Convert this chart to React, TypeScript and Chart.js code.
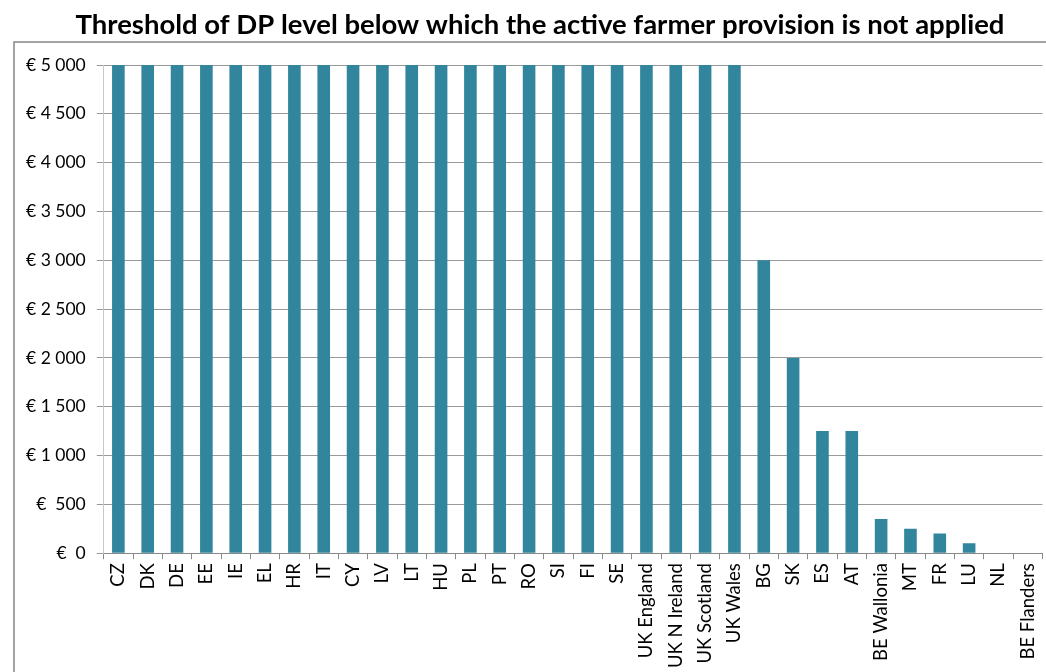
import React, { useEffect, useRef } from "react";
import { Chart, registerables } from "chart.js";

Chart.register(...registerables);

// Countries / regions, ordered by threshold
const categories: string[] = [
  "CZ", "DK", "DE", "EE", "IE", "EL", "HR", "IT", "CY", "LV", "LT", "HU",
  "PL", "PT", "RO", "SI", "FI", "SE", "UK England", "UK N Ireland",
  "UK Scotland", "UK Wales", "BG", "SK", "ES", "AT", "BE Wallonia", "MT",
  "FR", "LU", "NL", "BE Flanders",
];

// Threshold of direct payments (EUR)
const thresholds: number[] = [
  5000, 5000, 5000, 5000, 5000, 5000, 5000, 5000, 5000, 5000, 5000, 5000,
  5000, 5000, 5000, 5000, 5000, 5000, 5000, 5000, 5000, 5000, 3000, 2000,
  1250, 1250, 350, 250, 200, 100, 0, 0,
];

// Value axis labels, from 0 up to 5 000 in steps of 500
const yTickLabels: string[] = [
  "€  0", "€  500", "€ 1 000", "€ 1 500", "€ 2 000", "€ 2 500",
  "€ 3 000", "€ 3 500", "€ 4 000", "€ 4 500", "€ 5 000",
];

const title = "Threshold of DP level below which the active farmer provision is not applied";

// Outer frame and heading drawn around the plot
const frame = {
  id: "outerFrame",
  afterDraw(chart: Chart) {
    const ctx = chart.ctx;
    ctx.save();
    ctx.strokeStyle = "#868686";
    ctx.lineWidth = 1.5;
    ctx.strokeRect(14, 42, 1200, 800);
    ctx.fillStyle = "#000";
    ctx.font = "bold 27.5px Lato";
    ctx.textAlign = "center";
    ctx.textBaseline = "middle";
    ctx.fillText(title, 540, 25);
    ctx.restore();
  },
};

const CANVAS_W = 1054;
const CANVAS_H = 672;

export default function App() {
  const ref = useRef<HTMLCanvasElement | null>(null);

  useEffect(() => {
    if (!ref.current) return;
    const chart = new Chart(ref.current, {
      type: "bar",
      data: {
        labels: categories,
        datasets: [
          {
            data: thresholds,
            backgroundColor: "#31859C",
            borderWidth: 0,
            barPercentage: 0.43,
            categoryPercentage: 1,
          },
        ],
      },
      options: {
        animation: false,
        responsive: false,
        devicePixelRatio: 1,
        layout: { padding: { left: 15, right: -6, top: 65, bottom: 0 } },
        plugins: {
          legend: { display: false },
          tooltip: { enabled: false },
          title: { display: false },
        },
        scales: {
          x: {
            grid: {
              display: true,
              drawOnChartArea: false,
              drawTicks: true,
              tickLength: 6,
              color: "#888888",
              offset: true,
            },
            border: { color: "#888888" },
            ticks: {
              autoSkip: false,
              maxRotation: 90,
              minRotation: 90,
              color: "#000",
              padding: 4,
              font: { family: "Lato", size: 18.5 },
            },
          },
          y: {
            min: 0,
            max: 5000,
            grid: {
              color: "#9a9a9a",
              tickLength: 7,
            },
            border: { color: "#c8c8c8" },
            ticks: {
              stepSize: 500,
              color: "#000",
              padding: 11,
              font: { family: "Lato", size: 17.5 },
              callback: (_v, i) => yTickLabels[i],
            },
          },
        },
      },
      plugins: [frame],
    });
    return () => chart.destroy();
  }, []);

  return (
    <div style={{ position: "fixed", left: 0, top: 0, width: 1046, height: 672, background: "#fff", overflow: "hidden" }}>
      <canvas
        ref={ref}
        width={CANVAS_W}
        height={CANVAS_H}
        style={{ width: CANVAS_W, height: CANVAS_H, display: "block" }}
      />
    </div>
  );
}
